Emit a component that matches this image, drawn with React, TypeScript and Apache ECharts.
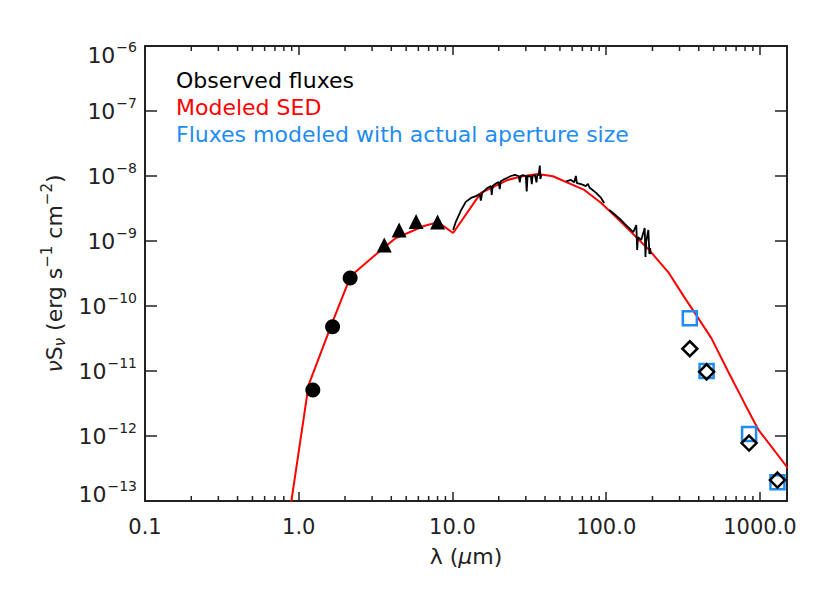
import React, { useEffect, useRef } from "react";
import * as echarts from "echarts";

// ---- data (wavelength in micron, nuS_nu in erg s^-1 cm^-2) ----
const modelSED: [number, number][] = [
  [0.876, 7e-14], [1.16, 6.1e-12], [1.66, 5.7e-11], [2.18, 2.9e-10],
  [3.32, 6.8e-10], [4.28, 1.11e-9], [6.53, 1.7e-9], [8.04, 1.95e-9],
  [10.1, 1.33e-9], [15.3, 5.5e-9], [17.8, 6.5e-9], [22.9, 8.7e-9],
  [27.9, 9.8e-9], [36.0, 1.07e-8], [45.0, 9.9e-9], [72.0, 6.1e-9],
  [92.8, 3.85e-9], [125, 1.96e-9], [190, 7.3e-10], [253, 3.33e-10],
  [322, 1.37e-10], [397, 6.5e-11], [483, 3.2e-11], [621, 9.8e-12],
  [793, 3.2e-12], [979, 1.24e-12], [1520, 3.2e-13],
];

const spectrumMIR: [number, number][] = [
  [10.1, 1.48e-9], [10.5, 1.96e-9], [11.4, 3.0e-9], [12.2, 4.0e-9], [13.2, 4.6e-9],
  [14.2, 4.9e-9], [15.0, 5.3e-9], [15.3, 4.2e-9], [15.6, 5.5e-9], [16.8, 6.5e-9],
  [17.8, 7.0e-9], [18.0, 5.1e-9], [18.3, 7.1e-9], [18.9, 7.5e-9], [20.0, 8.1e-9],
  [20.3, 6.3e-9], [20.6, 8.3e-9], [21.3, 8.7e-9], [22.6, 9.3e-9], [24.0, 1.0e-8],
  [25.5, 1.04e-8], [27.0, 1.0e-8], [27.4, 8.0e-9], [27.8, 1.0e-8], [28.7, 1.03e-8],
  [30.0, 1.0e-8], [30.4, 5.8e-9], [30.8, 1.0e-8], [32.4, 9.8e-9], [32.8, 7.5e-9],
  [33.2, 1.0e-8], [34.4, 1.03e-8], [35.2, 8.0e-9], [35.6, 1.02e-8], [36.4, 1.05e-8],
  [37.0, 1.45e-8], [37.3, 9.0e-9], [38.0, 1.05e-8],
];

const spectrumFIR1: [number, number][] = [
  [55, 8.3e-9], [59, 8.7e-9], [62, 8.0e-9], [63.5, 1.0e-8], [64.5, 7.8e-9],
  [68.6, 7.5e-9], [74, 7.0e-9], [76, 7.6e-9], [78, 6.6e-9], [80, 6.3e-9],
  [86, 5.5e-9], [92.6, 4.6e-9], [97, 3.85e-9],
];

const spectrumFIR2: [number, number][] = [
  [104.6, 3.0e-9], [110.8, 2.7e-9], [117, 2.4e-9], [125, 2.1e-9], [133, 1.8e-9],
  [141, 1.58e-9], [150, 1.37e-9], [157, 1.76e-9], [159, 7.3e-10], [161, 1.15e-9],
  [169, 1.04e-9], [178, 1.58e-9], [180, 5.7e-10], [182, 9.7e-10], [188, 1.48e-9],
  [191, 6.3e-10], [193, 7.8e-10], [195, 6.3e-10],
];

const nirCircles: [number, number][] = [[1.235, 5.1e-12], [1.66, 4.8e-11], [2.16, 2.7e-10]];
const iracTriangles: [number, number][] = [[3.6, 8.7e-10], [4.5, 1.48e-9], [5.8, 2.0e-9], [8.0, 1.96e-9]];
const submmObserved: [number, number][] = [[350, 2.2e-11], [450, 9.7e-12], [850, 7.8e-13], [1300, 2.1e-13]];
const submmAperture: [number, number][] = [[350, 6.5e-11], [450, 1.0e-11], [850, 1.07e-12], [1300, 1.95e-13]];

const xMinorTicks: number[] = [
  0.2, 0.3, 0.4, 0.5, 0.6, 0.7, 0.8, 0.9,
  2, 3, 4, 5, 6, 7, 8, 9,
  20, 30, 40, 50, 60, 70, 80, 90,
  200, 300, 400, 500, 600, 700, 800, 900,
];

const legendLabels = ["Observed fluxes", "Modeled SED", "Fluxes modeled with actual aperture size"];
const xRange = [0.1, 1500];
const yRange = [1e-13, 1e-6];

const FONT = "DejaVu Sans";
const AXIS = "#222";
const RED = "#ff0000";
const BLUE = "#1e8cf0";

export default function App() {
  const ref = useRef<HTMLDivElement>(null);
  useEffect(() => {
    if (!ref.current) return;
    const chart = echarts.init(ref.current, undefined, { renderer: "svg" });
    const axisLine = { show: true, lineStyle: { color: AXIS, width: 2 } };
    const yRich = {
      b: { fontSize: 22, fontFamily: FONT, color: AXIS },
      s: { fontSize: 14, fontFamily: FONT, color: AXIS, padding: [0, 0, 17, 1] },
      bt: { fontSize: 22, fontFamily: FONT, color: AXIS, padding: [19, 0, 0, 0] },
      st: { fontSize: 14, fontFamily: FONT, color: AXIS, padding: [19, 0, 17, 1] },
      bb: { fontSize: 22, fontFamily: FONT, color: AXIS, padding: [0, 0, 13, 0] },
      sb: { fontSize: 14, fontFamily: FONT, color: AXIS, padding: [0, 0, 30, 1] },
    };
    const option: any = {
      animation: false,
      backgroundColor: "#fff",
      grid: { left: 145, right: 43, top: 46, bottom: 92 },
      xAxis: [
        {
          type: "log", logBase: 10, min: xRange[0], max: xRange[1],
          name: "{l|λ }{n|(}{m|μ}{n|m)}", nameLocation: "middle", nameGap: 44,
          nameTextStyle: {
            rich: {
              l: { fontSize: 22, fontFamily: FONT, color: AXIS },
              n: { fontSize: 22, fontFamily: FONT, color: AXIS },
              m: { fontSize: 22, fontFamily: FONT, color: AXIS, fontStyle: "italic" },
            },
          },
          axisLine, splitLine: { show: false },
          axisTick: { show: true, inside: true, length: 9, lineStyle: { color: AXIS, width: 1.5 } },
          axisLabel: {
            margin: 15, fontSize: 21, fontFamily: FONT, color: AXIS, showMaxLabel: false,
            formatter: (v: number) => v.toFixed(1),
          },
        },
        {
          type: "log", logBase: 10, min: xRange[0], max: xRange[1], position: "top",
          axisLine, splitLine: { show: false },
          axisTick: { show: true, inside: true, length: 9, lineStyle: { color: AXIS, width: 1.5 } },
          axisLabel: { show: false },
        },
      ],
      yAxis: [
        {
          type: "log", logBase: 10, min: yRange[0], max: yRange[1],
          name: "{i|ν}{n|S}{sub|ν}{n| (erg s}{sup|−1}{n| cm}{sup|−2}{n|)}",
          nameLocation: "middle", nameGap: 76, nameRotate: 90,
          nameTextStyle: {
            rich: {
              n: { fontSize: 22, fontFamily: FONT, color: AXIS },
              i: { fontSize: 22, fontFamily: FONT, color: AXIS, fontStyle: "italic" },
              sub: { fontSize: 15, fontFamily: FONT, color: AXIS, fontStyle: "italic", padding: [12, 0, 0, 0] },
              sup: { fontSize: 15, fontFamily: FONT, color: AXIS, padding: [0, 0, 14, 0] },
            },
          },
          axisLine, splitLine: { show: false },
          axisTick: { show: true, inside: true, length: 12, lineStyle: { color: AXIS, width: 1.5 } },
          axisLabel: {
            margin: 8,
            rich: yRich,
            formatter: (v: number) => {
              const e = Math.round(Math.log10(v));
              if (e === -6) return `{bt|10}{st|−${-e}}`;
              if (e === -13) return `{bb|10}{sb|−${-e}}`;
              return `{b|10}{s|−${-e}}`;
            },
          },
        },
        {
          type: "log", logBase: 10, min: yRange[0], max: yRange[1], position: "right",
          axisLine, splitLine: { show: false },
          axisTick: { show: true, inside: true, length: 12, lineStyle: { color: AXIS, width: 1.5 } },
          axisLabel: { show: false },
        },
      ],
      series: [
        {
          type: "custom", name: "minor ticks", silent: true, z: 1,
          data: xMinorTicks.map((v) => [v, 1e-10]),
          renderItem: (params: any, api: any) => {
            const cs = params.coordSys;
            const x = api.coord([api.value(0), api.value(1)])[0];
            const b = cs.y + cs.height;
            const t = cs.y;
            const st = { stroke: AXIS, lineWidth: 1.5 };
            return {
              type: "group",
              children: [
                { type: "line", shape: { x1: x, y1: b, x2: x, y2: b - 5 }, style: st },
                { type: "line", shape: { x1: x, y1: t, x2: x, y2: t + 5 }, style: st },
              ],
            };
          },
        },
        {
          type: "line", name: legendLabels[1], data: modelSED, showSymbol: false, z: 2,
          lineStyle: { color: RED, width: 2 }, itemStyle: { color: RED },
        },
        ...[spectrumMIR, spectrumFIR1, spectrumFIR2].map((d) => ({
          type: "line", name: legendLabels[0], data: d, showSymbol: false, z: 3,
          lineStyle: { color: "#000", width: 1.8 }, itemStyle: { color: "#000" },
        })),
        {
          type: "scatter", name: legendLabels[2], data: submmAperture, symbol: "rect", symbolSize: 14, z: 4,
          itemStyle: { color: "rgba(0,0,0,0)", borderColor: BLUE, borderWidth: 2.5, opacity: 1 },
        },
        {
          type: "scatter", name: legendLabels[0], data: submmObserved, symbol: "diamond", symbolSize: 15, z: 5,
          itemStyle: { color: "rgba(0,0,0,0)", borderColor: "#000", borderWidth: 2.5, opacity: 1 },
        },
        {
          type: "scatter", name: legendLabels[0], data: nirCircles, symbol: "circle", symbolSize: 15, z: 5,
          itemStyle: { color: "#000", opacity: 1 },
        },
        {
          type: "scatter", name: legendLabels[0], data: iracTriangles, symbol: "triangle", symbolSize: 15, z: 5,
          itemStyle: { color: "#000", opacity: 1 },
        },
      ],
      graphic: legendLabels.map((txt, i) => ({
        type: "text",
        x: 176,
        y: 80 + i * 27,
        style: {
          text: txt,
          fill: ["#000", RED, BLUE][i],
          fontSize: 22,
          fontFamily: FONT,
          align: "left",
          verticalAlign: "middle",
        },
      })),
    };
    chart.setOption(option);
    return () => chart.dispose();
  }, []);
  return (
    <div
      ref={ref}
      style={{ position: "absolute", left: 0, top: 0, width: 830, height: 593, background: "#fff" }}
    />
  );
}
